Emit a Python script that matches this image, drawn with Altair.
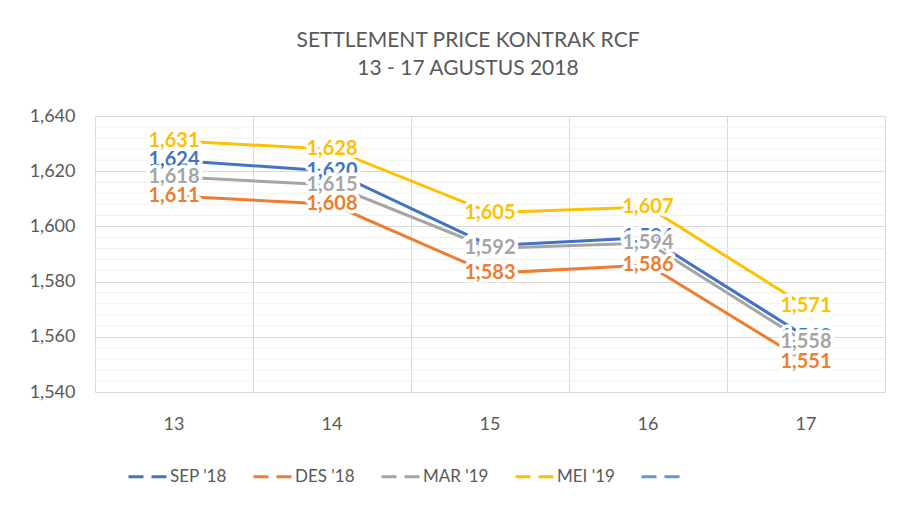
import altair as alt
import pandas as pd

days = ["13", "14", "15", "16", "17"]
series = ["SEP '18", "DES '18", "MAR '19", "MEI '19"]
sep18 = [1624, 1620, 1593, 1596, 1560]
des18 = [1611, 1608, 1583, 1586, 1551]
mar19 = [1618, 1615, 1592, 1594, 1558]
mei19 = [1631, 1628, 1605, 1607, 1571]
colors = ["#4472C4", "#ED7D31", "#A5A5A5", "#FFC000", "#5B9BD5"]
major_ticks = [1540, 1560, 1580, 1600, 1620, 1640]
minor_ticks = [v for v in range(1544, 1640, 4) if v % 20 != 0]

rows = []
for name, vals in zip(series, [sep18, des18, mar19, mei19]):
    for d, v in zip(days, vals):
        rows.append({"day": d, "series": name, "value": v})
df = pd.DataFrame(rows)
minor_df = pd.DataFrame({"value": minor_ticks})

FONT = "Lato"
GREY = "#595959"

color_scale = alt.Scale(domain=series + [" "], range=colors)

x_enc = alt.X("day:O", scale=alt.Scale(type="band", domain=days, paddingInner=0, paddingOuter=0),
              axis=alt.Axis(title=None, grid=True, bandPosition=0, gridColor="#D9D9D9",
                            ticks=False, domain=False, labelAngle=0, labelFontSize=18,
                            labelColor=GREY, labelFont=FONT, labelPadding=23))
y_axis = alt.Axis(title=None, values=major_ticks, format=",.0f", grid=True,
                  gridColor="#D9D9D9", ticks=False, domain=False,
                  labelFontSize=18, labelColor=GREY, labelFont=FONT, labelPadding=20)
y_scale = alt.Scale(domain=[1540, 1640], nice=False, zero=False)
y_enc = alt.Y("value:Q", scale=y_scale, axis=y_axis)

minor = alt.Chart(minor_df).mark_rule(color="#F0F0F0", strokeWidth=1).encode(y=y_enc)

lines = alt.Chart(df).mark_line(strokeWidth=3).encode(
    x=x_enc, y=y_enc,
    color=alt.Color("series:N", scale=color_scale, sort=series + [" "],
                    legend=alt.Legend(title=None, orient="none", direction="horizontal",
                                      legendX=32, legendY=340, symbolType="stroke",
                                      symbolSize=1444, symbolStrokeWidth=3,
                                      symbolDash=[15, 8], labelFontSize=17,
                                      labelFont=FONT, labelColor=GREY, columnPadding=20,
                                      labelOffset=2, padding=0, labelLimit=200)),
    detail="series:N",
)

label_layers = []
for i, name in enumerate(series):
    sub = alt.Chart(df).transform_filter(alt.datum.series == name)
    halo = sub.mark_text(font=FONT, fontSize=20, fontWeight="bold", color="white",
                         stroke="white", strokeWidth=7, strokeJoin="round").encode(
        x=x_enc, y=y_enc, text=alt.Text("value:Q", format=",.0f"))
    txt = sub.mark_text(font=FONT, fontSize=20, fontWeight="bold", color=colors[i]).encode(
        x=x_enc, y=y_enc, text=alt.Text("value:Q", format=",.0f"))
    label_layers += [halo, txt]

chart = alt.layer(minor, lines, *label_layers).properties(
    width=790, height=276,
    title=alt.TitleParams(["SETTLEMENT PRICE KONTRAK RCF", "13 - 17 AGUSTUS 2018"],
                          font=FONT, fontSize=21, fontWeight="normal", color=GREY,
                          anchor="middle", dx=-22, lineHeight=28, offset=28),
    autosize=alt.AutoSizeParams(type="none"),
    padding={"left": 87, "top": 108, "right": 7, "bottom": 100},
).configure_view(stroke="#D9D9D9").configure(background="white")

chart.save("out.html", embed_options={"renderer": "svg", "actions": False})
